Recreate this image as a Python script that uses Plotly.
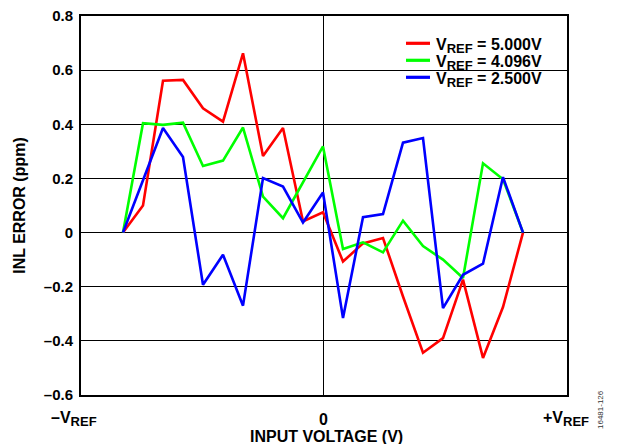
import plotly.graph_objects as go

# Input voltage steps (code positions, -VREF ... +VREF mapped to plot edges)
x_steps = [-10, -9, -8, -7, -6, -5, -4, -3, -2, -1, 0, 1, 2, 3, 4, 5, 6, 7, 8, 9, 10]

inl_5000 = [0.0, 0.10, 0.561, 0.564, 0.459, 0.41, 0.662, 0.283, 0.386, 0.041, 0.075,
            -0.107, -0.04, -0.02, -0.236, -0.444, -0.39, -0.174, -0.463, -0.275, 0.0]
inl_4096 = [0.0, 0.404, 0.398, 0.406, 0.246, 0.266, 0.388, 0.133, 0.053, 0.186, 0.318,
            -0.061, -0.036, -0.073, 0.044, -0.05, -0.10, -0.168, 0.256, 0.197, 0.0]
inl_2500 = [0.0, 0.19, 0.386, 0.279, -0.193, -0.082, -0.27, 0.201, 0.17, 0.037, 0.148,
            -0.316, 0.057, 0.068, 0.332, 0.349, -0.279, -0.156, -0.115, 0.205, 0.0]

vref_values = ["5.000V", "4.096V", "2.500V"]
series_colors = ["#FF0000", "#00FF00", "#0000FF"]

y_tickvals = [0.8, 0.6, 0.4, 0.2, 0, -0.2, -0.4, -0.6]
y_ticktext = ["0.8", "0.6", "0.4", "0.2", "0", "–0.2", "–0.4", "–0.6"]

FONT = "Liberation Sans, Arial, sans-serif"
SUB = "<sub><span style='font-size:13px'>REF</span></sub>"
x_label_text = ["–V" + SUB, "0", "+V" + SUB]
series_names = ["V" + SUB + " = " + v for v in vref_values]

L, R, T, B = 81, 51, 16, 49
PW, PH = 618 - L - R, 444 - T - B


def px_x(p):
    return (p - L) / PW


def px_y(p):
    return (444 - B - p) / PH


fig = go.Figure()
for name, col, ys in zip(series_names, series_colors, [inl_5000, inl_4096, inl_2500]):
    fig.add_trace(go.Scatter(x=x_steps, y=ys, mode="lines", name=name,
                             line=dict(color=col, width=2.6), showlegend=False))

fig.update_layout(
    width=618, height=444,
    margin=dict(l=L, r=R, t=T, b=B, autoexpand=False),
    paper_bgcolor="white", plot_bgcolor="white",
    font=dict(family=FONT, size=15, color="black", weight="bold"),
    showlegend=False,
    xaxis=dict(range=[-12.1, 12.2], showgrid=False, zeroline=True,
               zerolinecolor="black", zerolinewidth=1.3,
               showline=True, linecolor="black", linewidth=2, mirror=True,
               tickvals=[], ticks="", automargin=False),
    yaxis=dict(range=[-0.6, 0.8], tickvals=y_tickvals, ticktext=y_ticktext,
               showgrid=True, gridcolor="black", gridwidth=1.3,
               zeroline=False, ticks="", automargin=False,
               showline=True, linecolor="black", linewidth=2, mirror=True,
               ticklabelstandoff=3,
               tickfont=dict(family=FONT, size=15, weight="bold"),
               title=dict(text="INL ERROR (ppm)", standoff=14,
                          font=dict(family=FONT, size=16, weight="bold"))),
)

# legend (manual, inside top-right of the plot)
fig.add_shape(type="rect", xref="paper", yref="paper",
              x0=px_x(398), x1=px_x(551), y0=px_y(88), y1=px_y(30),
              fillcolor="white", line=dict(width=0), layer="between")
for i, (name, col) in enumerate(zip(series_names, series_colors)):
    yy = 43.3 + 17 * i
    fig.add_shape(type="line", xref="paper", yref="paper",
                  x0=px_x(406), x1=px_x(430), y0=px_y(yy), y1=px_y(yy),
                  line=dict(color=col, width=3.2))
    fig.add_annotation(x=px_x(434), xref="paper", y=px_y(yy + 2.5), yref="paper",
                       text=name, showarrow=False, xanchor="left", yanchor="middle",
                       font=dict(family=FONT, size=16, weight="bold"))

# x tick labels (-VREF at left edge, 0 at centre, +VREF at right edge)
for xp, txt in zip([74, 323, 566], x_label_text):
    fig.add_annotation(x=px_x(xp), xref="paper", y=px_y(419), yref="paper", text=txt,
                       showarrow=False, yanchor="middle", xanchor="center",
                       font=dict(family=FONT, size=16, weight="bold"))

# x axis title
fig.add_annotation(x=px_x(326), xref="paper", y=px_y(436), yref="paper",
                   text="INPUT VOLTAGE (V)", showarrow=False,
                   yanchor="middle", xanchor="center",
                   font=dict(family=FONT, size=16, weight="bold"))

# figure id
fig.add_annotation(x=px_x(600), xref="paper", y=px_y(410), yref="paper", text="16481-126",
                   showarrow=False, textangle=-90, xanchor="center", yanchor="middle",
                   font=dict(family=FONT, size=8, weight="normal", color="#333333"))

fig.write_html("out.html", config={"displayModeBar": False},
               post_script="document.body.style.margin='0';document.body.style.padding='0';")
